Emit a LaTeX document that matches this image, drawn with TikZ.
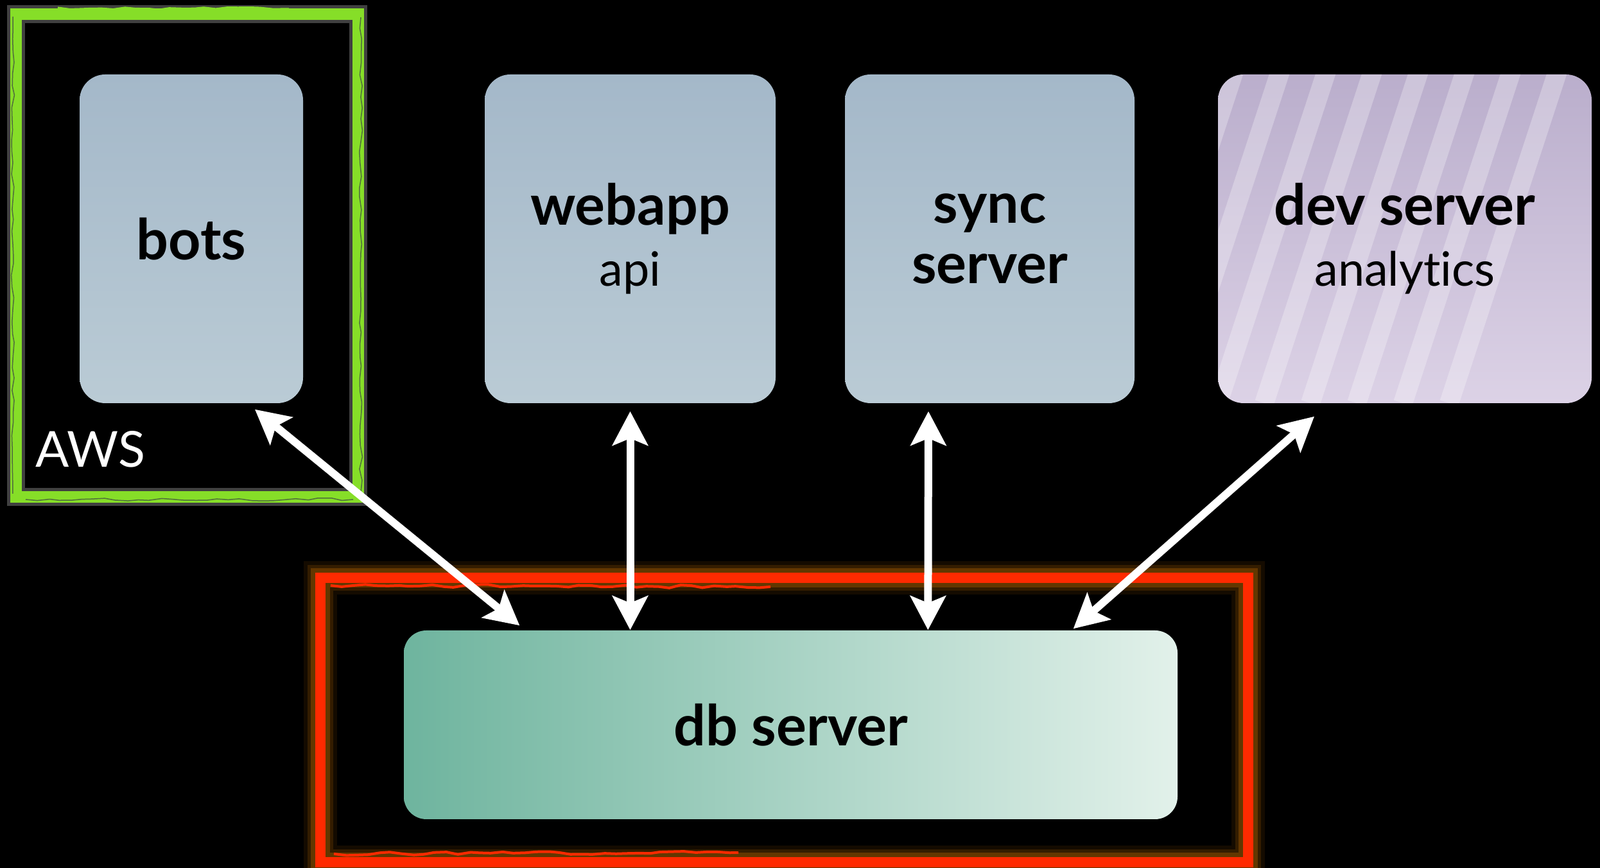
\documentclass[tikz,border=0pt]{standalone}
\usepackage{fontspec}
\setmainfont{Lato}[Ligatures=NoCommon]
\usepackage{xcolor}
\usepackage{tikz}
\usetikzlibrary{calc,arrows.meta,decorations.pathmorphing,shadings}

\definecolor{awsgreen}{RGB}{134,222,40}
\definecolor{awsgap}{RGB}{80,110,60}
\definecolor{dbred}{RGB}{255,42,0}
\definecolor{redglow}{RGB}{170,95,0}
\definecolor{srvtop}{RGB}{164,184,201}
\definecolor{srvbot}{RGB}{186,203,213}
\definecolor{devtop}{RGB}{186,174,204}
\definecolor{devbot}{RGB}{220,210,230}
\definecolor{dbleft}{RGB}{110,180,158}
\definecolor{dbright}{RGB}{226,241,234}

\begin{document}
\begin{tikzpicture}[
  server/.style={rectangle, rounded corners=0.4cm, minimum height=5.12cm, inner sep=0pt,
    align=center, top color=srvtop, bottom color=srvbot, text=black,
    font=\fontsize{25}{29}\selectfont\bfseries},
  link/.style={draw=white, line width=0.12cm,
    {Stealth[length=0.53cm,width=0.55cm,inset=0.11cm]}-{Stealth[length=0.53cm,width=0.55cm,inset=0.11cm]}},
  rough/.style={decorate, decoration={random steps, segment length=5pt, amplitude=0.7pt}}
]
% background
\useasboundingbox (0,0) rectangle (24.92,13.52);
\clip (0,0) rectangle (24.92,13.52);
\fill [black] (0,0) rectangle (24.92,13.52);

% AWS frame
\draw [white, opacity=0.25, line width=0.28cm] (0.25,13.30) rectangle (5.58,5.78);
\draw [awsgreen, line width=0.18cm] (0.25,13.30) rectangle (5.58,5.78);
\draw [awsgap, line width=0.015cm, rough] (0.20,13.26) -- (0.20,5.83);
\draw [awsgap, line width=0.015cm, rough] (5.62,13.25) -- (5.62,5.85);
\draw [awsgap, line width=0.015cm, rough] (0.40,5.74) -- (5.50,5.74);
\draw [awsgreen, line width=0.03cm, rough] (0.90,13.40) -- (4.50,13.38);
\node (aws) [anchor=base west, inner sep=0pt, text=white, font=\fontsize{22}{26}\selectfont]
  at (0.55,6.24) {AWS};

% db frame
\foreach \w/\o in {0.52/0.12,0.40/0.22,0.30/0.4}
  \draw [redglow, opacity=\o, line width=\w cm] (4.99,4.52) rectangle (19.44,0.09);
\draw [dbred, line width=0.16cm] (4.99,4.52) rectangle (19.44,0.09);
\draw [dbred, line width=0.04cm, rough] (5.15,4.40) -- (12.00,4.38);
\draw [dbred, line width=0.04cm, rough] (5.20,0.22) -- (11.50,0.24);

% servers
\node (bots) [server, minimum width=3.48cm] at (2.98,9.80) {bots};
\node (webapp) [server, minimum width=4.53cm] at (9.815,9.80) {webapp\\[-2pt]{\fontsize{21}{29}\selectfont\mdseries api}};
\node (sync) [server, minimum width=4.51cm] at (15.415,9.80) {sync\\[-2pt]server};
\node (dev) [server, minimum width=5.82cm, top color=devtop, bottom color=devbot,
  path picture={
    \foreach \k in {-4,...,5}
      \draw [white, opacity=0.28, line width=0.3cm]
        ($(path picture bounding box.south west)+(\k*0.72,0)$) -- ++(1.7,5.2);
  }] at (21.88,9.80) {dev server\\[-2pt]{\fontsize{21}{29}\selectfont\mdseries analytics}};
\node (db) [server, minimum width=12.05cm, minimum height=2.94cm, rounded corners=0.35cm,
  left color=dbleft, right color=dbright] at (12.315,2.23) {db server};

% links
\draw [link] ([xshift=0.99cm,yshift=-0.09cm]bots.south) -- ([xshift=1.81cm,yshift=0.07cm]db.north west);
\draw [link] ([yshift=-0.12cm]webapp.south) -- (webapp.south |- db.north);
\draw [link] ([xshift=-0.955cm,yshift=-0.12cm]sync.south) -- ([xshift=8.17cm]db.north west);
\draw [link] ([xshift=-1.41cm,yshift=-0.20cm]dev.south) -- ([xshift=-1.63cm,yshift=0.02cm]db.north east);
\end{tikzpicture}
\end{document}
